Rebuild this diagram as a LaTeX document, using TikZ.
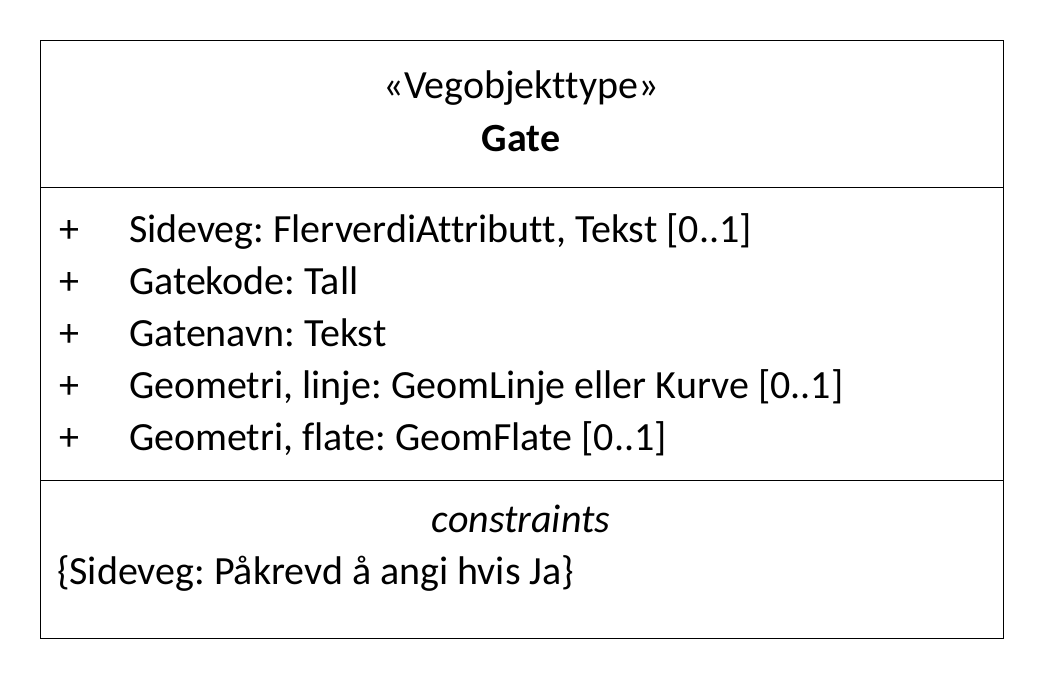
\documentclass[tikz,border=0pt]{standalone}
\usepackage{fontspec}
\setmainfont[Ligatures=NoCommon]{Carlito}
\frenchspacing
\begin{document}
\begin{tikzpicture}[x=1pt,y=-1pt,
  every node/.style={inner sep=0pt,outer sep=0pt,font=\fontsize{40}{48}\selectfont},
  txt/.style={anchor=base west},
  ctr/.style={anchor=base},
  frame/.style={draw=black,line width=1pt}]
\useasboundingbox[fill=white] (0,0) rectangle (1044,680);
% class box and compartments
\coordinate (tl) at (40,40);
\coordinate (br) at (1003,638);
\draw[frame] (tl) rectangle (br);
\coordinate (d1l) at (40,187); \coordinate (d1r) at (1003,187);
\coordinate (d2l) at (40,480); \coordinate (d2r) at (1003,480);
\draw[frame] (d1l) -- (d1r);
\draw[frame] (d2l) -- (d2r);
% header
\node[ctr] (stereo) at (521,98) {«Vegobjekttype»};
\node[ctr,font=\fontsize{40}{48}\selectfont\bfseries] (name) at (521,151) {Gate};
% attributes
\foreach \i/\t in {0/{Sideveg: FlerverdiAttributt, Tekst [0..1]},
                   1/{Gatekode: Tall},
                   2/{Gatenavn: Tekst},
                   3/{Geometri, linje: GeomLinje eller Kurve [0..1]},
                   4/{Geometri, flate: GeomFlate [0..1]}}{
  \node[txt] (vis\i) at (59,242+52*\i) {+};
  \node[txt] (attr\i) at (129,242+52*\i) {\t};
}
% constraints
\node[ctr,font=\fontsize{40}{48}\selectfont\itshape] (ctitle) at (521,532) {constraints};
\node[txt] (c1) at (57,584) {\{Sideveg: Påkrevd å angi hvis Ja\}};
\end{tikzpicture}
\end{document}
